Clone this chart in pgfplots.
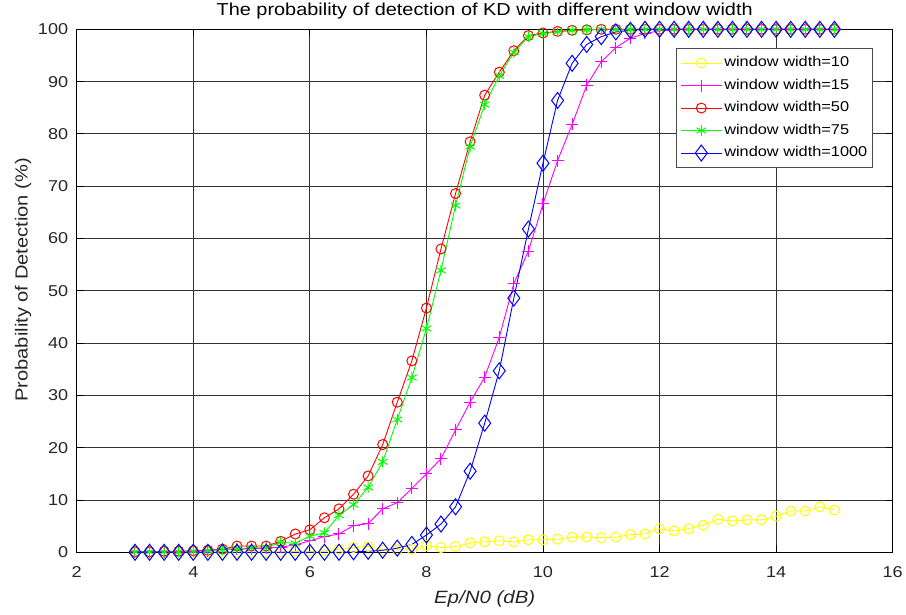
\documentclass[border=0pt]{standalone}
\usepackage{fontspec}
\setmainfont{Liberation Sans}[FakeStretch=1.15]
\usepackage{pgfplots}
\pgfplotsset{compat=1.18}
\definecolor{myyellow}{rgb}{1,1,0}
\definecolor{mymag}{rgb}{1,0,1}
\definecolor{myred}{rgb}{1,0,0}
\definecolor{mygreen}{rgb}{0,1,0}
\definecolor{myblue}{rgb}{0,0,1}
\begin{document}
\begin{tikzpicture}
\begin{axis}[
  /pgf/number format/assume math mode=true,
  scale only axis,
  width=816pt, height=523pt,
  xmin=2, xmax=16, ymin=0, ymax=100,
  xtick={2,4,...,16}, ytick={0,10,...,100},
  tick align=inside,
  major tick length=7pt,
  tick style={black, line width=0.8pt},
  axis line style={black, line width=1pt},
  grid=major,
  major grid style={black!80, line width=0.9pt},
  clip=false,
  tick label style={font=\fontsize{15.7}{18}\selectfont, text=black!85},
  xticklabel style={inner sep=0pt, anchor=north, yshift=-14.5pt},
  yticklabel style={inner sep=0pt, anchor=east, xshift=-8.4pt},
  title={The probability of detection of KD with different window width},
  title style={font=\fontsize{17.3}{20}\selectfont, at={(axis description cs:0.5,1)}, anchor=base, yshift=7.6pt, inner sep=0pt},
  xlabel={\itshape Ep/N0 (dB)},
  xlabel style={font=\fontsize{17.8}{20}\selectfont, text=black!85, at={(axis description cs:0.5,0)}, anchor=base, yshift=-51.5pt, inner sep=0pt},
  ylabel={Probability of Detection (\%)},
  every axis y label/.style={font=\fontsize{17.5}{20}\selectfont, text=black!85, at={([xshift=-49pt,yshift=11pt]axis description cs:0,0.5)}, rotate=90, anchor=base, inner sep=0pt},
  legend cell align=left,
  legend image code/.code={\draw[line width=1pt,mark repeat=2,mark phase=2,#1] plot coordinates {(0pt,0pt) (20.5pt,0pt) (41pt,0pt)};},
  legend style={font=\fontsize{14.2}{17}\selectfont, draw=black!70, line width=1pt, fill=white,
    at={(axis description cs:1,1)}, anchor=north east, xshift=-19.4pt, yshift=-19pt,
    inner xsep=3.5pt, inner ysep=5.5pt, row sep=5pt,
    nodes={inner sep=2pt, text height=10.5pt, text depth=3pt}},
  every axis plot/.append style={line width=0.9pt},
]
\addplot[myyellow, mark=o, mark size=5pt, mark options={line width=1pt, draw=myyellow}] coordinates {
(3,0) (3.25,0) (3.5,0) (3.75,0) (4,0) (4.25,0) (4.5,0) (4.75,0) (5,0) (5.25,0)
(5.5,0.1) (5.75,0.2) (6,0.2) (6.25,0.3) (6.5,0.6) (6.75,0.9) (7,1.1) (7.25,0.4) (7.5,0.5) (7.75,0.6)
(8,1.3) (8.25,0.9) (8.5,1.1) (8.75,1.8) (9,2.0) (9.25,2.2) (9.5,2.0) (9.75,2.4) (10,2.4) (10.25,2.5)
(10.5,2.9) (10.75,2.9) (11,2.8) (11.25,2.9) (11.5,3.4) (11.75,3.5) (12,4.5) (12.25,4.1) (12.5,4.5) (12.75,5.2)
(13,6.3) (13.25,6.0) (13.5,6.2) (13.75,6.2) (14,6.9) (14.25,7.9) (14.5,7.9) (14.75,8.7) (15,8.1)};
\addlegendentry{window width=10}
\addplot[mymag, mark=+, mark size=6pt, mark options={line width=1pt, draw=mymag}] coordinates {
(3,0.1) (3.25,0.1) (3.5,0.1) (3.75,0.2) (4,0.2) (4.25,0.3) (4.5,0.6) (4.75,0.6) (5,0.7) (5.25,0.8)
(5.5,1.0) (5.75,1.4) (6,2.2) (6.25,3.0) (6.5,3.5) (6.75,5.1) (7,5.5) (7.25,8.3) (7.5,9.5) (7.75,12.2)
(8,15.0) (8.25,17.9) (8.5,23.4) (8.75,28.7) (9,33.5) (9.25,41.1) (9.5,51.4) (9.75,57.6) (10,66.6) (10.25,74.9)
(10.5,81.8) (10.75,89.3) (11,93.8) (11.25,96.5) (11.5,98.3) (11.75,99.2) (12,99.7) (12.25,99.9) (12.5,100) (12.75,100)
(13,100) (13.25,100) (13.5,100) (13.75,100) (14,100) (14.25,100) (14.5,100) (14.75,100) (15,100)};
\addlegendentry{window width=15}
\addplot[myred, mark=o, mark size=5pt, mark options={line width=1pt, draw=myred}] coordinates {
(3,0.1) (3.25,0.1) (3.5,0.2) (3.75,0.2) (4,0.3) (4.25,0.4) (4.5,0.6) (4.75,1.2) (5,1.2) (5.25,1.2)
(5.5,2.1) (5.75,3.5) (6,4.3) (6.25,6.6) (6.5,8.3) (6.75,11.1) (7,14.6) (7.25,20.6) (7.5,28.7) (7.75,36.6)
(8,46.7) (8.25,58.0) (8.5,68.6) (8.75,78.5) (9,87.4) (9.25,91.8) (9.5,95.9) (9.75,98.8) (10,99.3) (10.25,99.6)
(10.5,99.8) (10.75,99.9) (11,100) (11.25,100) (11.5,100) (11.75,100) (12,100) (12.25,100) (12.5,100) (12.75,100)
(13,100) (13.25,100) (13.5,100) (13.75,100) (14,100) (14.25,100) (14.5,100) (14.75,100) (15,100)};
\addlegendentry{window width=50}
\addplot[mygreen, mark=asterisk, mark size=5.5pt, mark options={line width=1pt, draw=mygreen}] coordinates {
(3,0.1) (3.25,0.1) (3.5,0.1) (3.75,0.1) (4,0.2) (4.25,0.3) (4.5,0.5) (4.75,0.7) (5,0.8) (5.25,0.9)
(5.5,1.9) (5.75,1.7) (6,3.1) (6.25,3.7) (6.5,7.1) (6.75,9.1) (7,12.4) (7.25,17.3) (7.5,25.4) (7.75,33.4)
(8,42.8) (8.25,53.9) (8.5,66.3) (8.75,77.6) (9,85.6) (9.25,91.1) (9.5,95.6) (9.75,98.6) (10,99.2) (10.25,99.5)
(10.5,99.8) (10.75,99.9) (11,100) (11.25,100) (11.5,100) (11.75,100) (12,100) (12.25,100) (12.5,100) (12.75,100)
(13,100) (13.25,100) (13.5,100) (13.75,100) (14,100) (14.25,100) (14.5,100) (14.75,100) (15,100)};
\addlegendentry{window width=75}
\addplot[myblue, mark=diamond, mark size=8pt, mark options={line width=1pt, draw=myblue}] coordinates {
(3,0) (3.25,0) (3.5,0) (3.75,0) (4,0) (4.25,0) (4.5,0) (4.75,0) (5,0) (5.25,0)
(5.5,0) (5.75,0) (6,0) (6.25,0) (6.5,0) (6.75,0.1) (7,0.2) (7.25,0.4) (7.5,0.8) (7.75,1.5)
(8,3.3) (8.25,5.4) (8.5,8.7) (8.75,15.5) (9,24.7) (9.25,34.7) (9.5,48.6) (9.75,61.8) (10,74.4) (10.25,86.4)
(10.5,93.5) (10.75,97.1) (11,98.6) (11.25,99.5) (11.5,99.8) (11.75,100) (12,100) (12.25,100) (12.5,100) (12.75,100)
(13,100) (13.25,100) (13.5,100) (13.75,100) (14,100) (14.25,100) (14.5,100) (14.75,100) (15,100)};
\addlegendentry{window width=1000}
\end{axis}
\useasboundingbox (-76.7pt,-61.7pt) rectangle (829.3pt,552.3pt);
\end{tikzpicture}
\end{document}
